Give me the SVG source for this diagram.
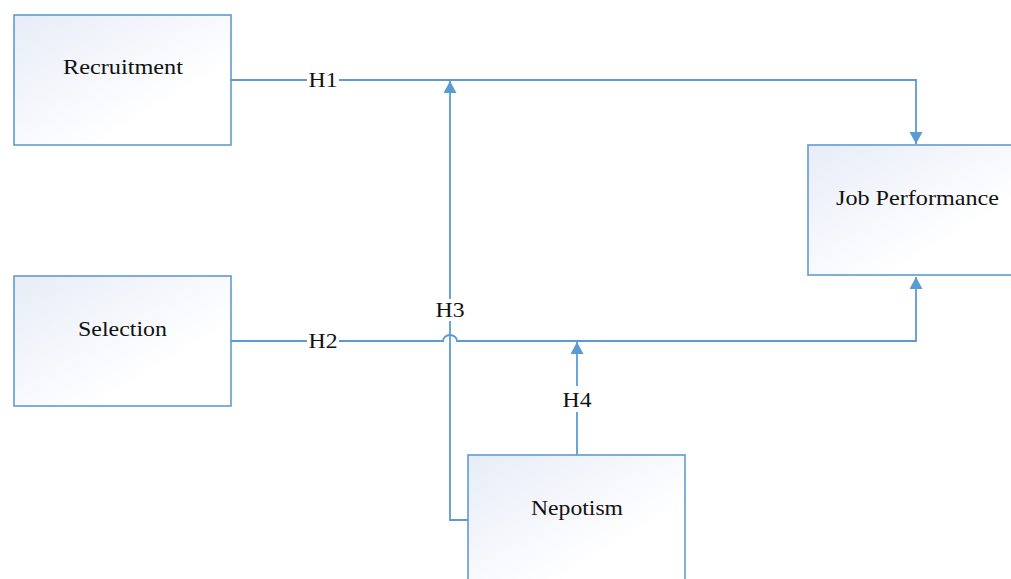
<svg xmlns="http://www.w3.org/2000/svg" width="1011" height="579" viewBox="0 0 1011 579">
<style>
.box{fill:url(#g);stroke:#5F9BD3;stroke-width:1.6}
.t{font-family:'Liberation Serif','Times New Roman',serif;font-size:22px;fill:#111;text-anchor:middle}
.c{fill:none;stroke:#5B9BD5;stroke-width:1.8}
.bg{fill:#fff}
</style>
<defs>
<linearGradient id="g" x1="0" y1="0" x2="1" y2="1">
<stop offset="0" stop-color="#E7ECF7"/>
<stop offset="0.7" stop-color="#FFFFFF"/>
<stop offset="1" stop-color="#FFFFFF"/>
</linearGradient>
<marker id="a" markerUnits="userSpaceOnUse" markerWidth="14" markerHeight="14" refX="12" refY="6.5" orient="auto">
<path d="M0,0 L12,6.5 L0,13 Z" fill="#5B9BD5"/>
</marker>
</defs>
<g id="recruitment"><rect class="box" x="14" y="15" width="217" height="130"/><text class="t" x="123" y="74" textLength="120" lengthAdjust="spacingAndGlyphs">Recruitment</text></g>
<g id="selection"><rect class="box" x="14" y="276" width="217" height="130"/><text class="t" x="122.5" y="336" textLength="89" lengthAdjust="spacingAndGlyphs">Selection</text></g>
<g id="jobperformance"><rect class="box" x="808" y="145" width="217" height="130"/><text class="t" x="917.5" y="205" textLength="163" lengthAdjust="spacingAndGlyphs">Job Performance</text></g>
<g id="nepotism"><rect class="box" x="468" y="455" width="217" height="130"/><text class="t" x="577" y="515" textLength="92" lengthAdjust="spacingAndGlyphs">Nepotism</text></g>
<g id="connectors">
<path class="c" d="M231,80 H916 V144" marker-end="url(#a)"/>
<path class="c" d="M231,341 H443 A7,6 0 0 1 457,341 H916 V277" marker-end="url(#a)"/>
<path class="c" d="M468,520 H450 V81" marker-end="url(#a)"/>
<path class="c" d="M577,455 V342" marker-end="url(#a)"/>
<rect class="bg" x="307" y="71" width="32" height="19"/>
<text class="t" x="323" y="87" textLength="29" lengthAdjust="spacingAndGlyphs">H1</text>
<rect class="bg" x="307" y="332" width="32" height="19"/>
<text class="t" x="323" y="348" textLength="29" lengthAdjust="spacingAndGlyphs">H2</text>
<rect class="bg" x="434" y="299" width="32" height="22"/>
<text class="t" x="450" y="317" textLength="29" lengthAdjust="spacingAndGlyphs">H3</text>
<rect class="bg" x="561" y="386" width="32" height="26"/>
<text class="t" x="577" y="407" textLength="29" lengthAdjust="spacingAndGlyphs">H4</text>
</g>
</svg>
